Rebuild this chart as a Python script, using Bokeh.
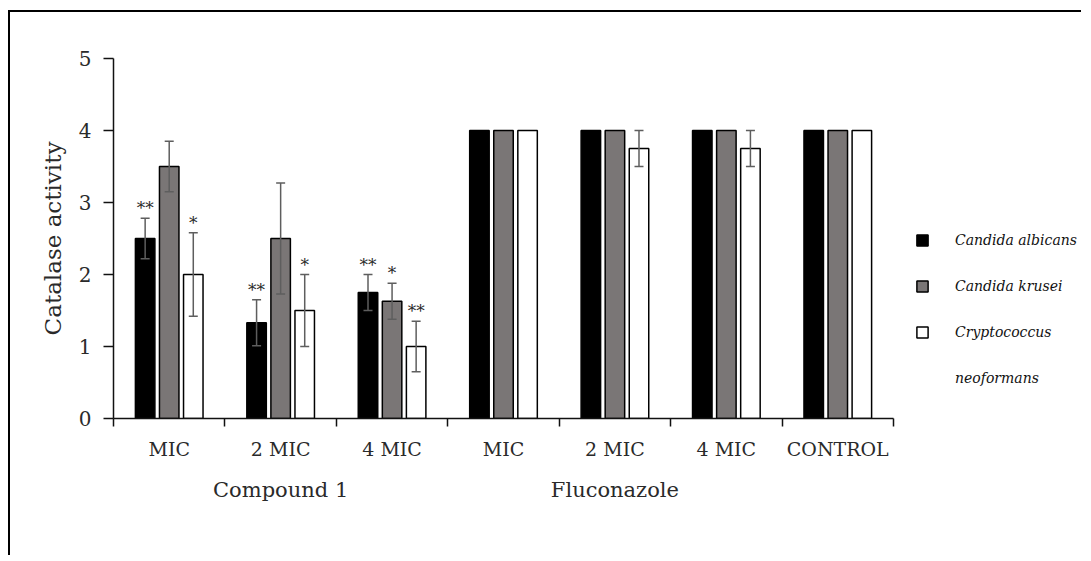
from bokeh.plotting import figure
from bokeh.models import (Range1d, FixedTicker, LinearAxis, ColumnDataSource,
                          Whisker, TeeHead, Legend, LegendItem)
from bokeh.core.properties import value
from bokeh.embed import file_html
from bokeh.resources import INLINE

# ---------------- data ----------------
categories = ["MIC", "2 MIC", "4 MIC", "MIC", "2 MIC", "4 MIC", "CONTROL"]
groups = ["Compound 1", "Fluconazole"]
group_span = [(0, 3), (3, 6)]
species = ["Candida albicans", "Candida krusei", "Cryptococcus", "neoformans"]

albicans = [2.5, 1.33, 1.75, 4.0, 4.0, 4.0, 4.0]
albicans_err = [0.28, 0.32, 0.25, 0.0, 0.0, 0.0, 0.0]
krusei = [3.5, 2.5, 1.63, 4.0, 4.0, 4.0, 4.0]
krusei_err = [0.35, 0.77, 0.25, 0.0, 0.0, 0.0, 0.0]
crypto = [2.0, 1.5, 1.0, 4.0, 3.75, 3.75, 4.0]
crypto_err = [0.58, 0.5, 0.35, 0.0, 0.25, 0.25, 0.0]

albicans_sig = ["**", "**", "**", "", "", "", ""]
krusei_sig = ["", "", "*", "", "", "", ""]
crypto_sig = ["*", "*", "**", "", "", "", ""]

y_ticks = [0, 1, 2, 3, 4, 5]

# ---------------- style ----------------
FONT = "DejaVu Serif"
COLORS = ["#000000", "#7a7676", "#ffffff"]
ERR_COLOR = "#5e5e5e"
TEXT_COLOR = "#2a2a2a"
OFFSETS = [-0.216, 0.0, 0.216]
BAR_W = 0.175

n = len(categories)
W, H = 1073, 545
LEFT, TOP, BOTTOM = 103, 46, 139
PLOT_W = 780  # width of the category area in px
x_end = n * (W - LEFT) / PLOT_W  # leave room on the right for the legend

p = figure(width=W, height=H,
           x_range=Range1d(0, x_end), y_range=Range1d(0, 5),
           x_axis_type=None,
           output_backend="svg", toolbar_location=None,
           min_border_left=LEFT, min_border_right=0,
           min_border_top=TOP, min_border_bottom=BOTTOM,
           styles={"border-left": "2px solid black",
                   "border-top": "2px solid black",
                   "margin-left": "8px",
                   "margin-top": "10px"})
p.outline_line_color = None
p.ygrid.grid_line_color = None
p.background_fill_color = "white"

# y axis
ya = p.yaxis[0]
ya.ticker = FixedTicker(ticks=y_ticks)
ya.major_tick_out = 10
ya.major_tick_in = 0
ya.minor_tick_line_color = None
ya.axis_line_width = 1.5
ya.major_tick_line_width = 1.5
ya.axis_line_color = "#111111"
ya.major_tick_line_color = "#111111"
ya.major_label_text_font = FONT
ya.major_label_text_font_size = "20px"
ya.major_label_text_color = TEXT_COLOR
ya.major_label_standoff = 12
ya.axis_label = "Catalase activity"
ya.axis_label_text_font = FONT
ya.axis_label_text_font_size = "23px"
ya.axis_label_text_font_style = "normal"
ya.axis_label_text_color = TEXT_COLOR
ya.axis_label_standoff = 10

# x axis: category labels at centres, boundary ticks
centers = [i + 0.5 for i in range(n)]
bounds = [float(i) for i in range(n + 1)]
xa = LinearAxis(ticker=FixedTicker(ticks=centers, minor_ticks=bounds),
                major_label_overrides={c: lab for c, lab in zip(centers, categories)},
                bounds=(0, n))
xa.major_tick_out = 0
xa.major_tick_in = 0
xa.major_tick_line_color = None
xa.minor_tick_out = 8
xa.minor_tick_in = 0
xa.minor_tick_line_width = 1.5
xa.minor_tick_line_color = "#111111"
xa.axis_line_width = 1.5
xa.axis_line_color = "#111111"
xa.major_label_text_font = FONT
xa.major_label_text_font_size = "19px"
xa.major_label_text_color = TEXT_COLOR
xa.major_label_standoff = 11
p.add_layout(xa, "below")

gcent = [(a + b) / 2 for a, b in group_span]
ga = LinearAxis(ticker=FixedTicker(ticks=gcent, minor_ticks=[]),
                major_label_overrides={c: g for c, g in zip(gcent, groups)})
ga.axis_line_color = None
ga.major_tick_line_color = None
ga.minor_tick_line_color = None
ga.major_label_text_font = FONT
ga.major_label_text_font_size = "21px"
ga.major_label_text_color = TEXT_COLOR
ga.major_label_standoff = 9
p.add_layout(ga, "below")

# bars
series = [(albicans, albicans_err, albicans_sig),
          (krusei, krusei_err, krusei_sig),
          (crypto, crypto_err, crypto_sig)]
renderers = []
for k, (vals, errs, sig) in enumerate(series):
    xs = [i + 0.5 + OFFSETS[k] for i in range(n)]
    src = ColumnDataSource(dict(x=xs, top=vals))
    r = p.vbar(x="x", top="top", width=BAR_W, bottom=0, source=src,
               fill_color=COLORS[k], line_color="#000000", line_width=1.5)
    renderers.append(r)

for k, (vals, errs, sig) in enumerate(series):
    xs = [i + 0.5 + OFFSETS[k] for i in range(n)]
    wx = [x for x, e in zip(xs, errs) if e > 0]
    wu = [v + e for v, e in zip(vals, errs) if e > 0]
    wl = [v - e for v, e in zip(vals, errs) if e > 0]
    wsrc = ColumnDataSource(dict(x=wx, upper=wu, lower=wl))
    w = Whisker(source=wsrc, base="x", upper="upper", lower="lower",
                line_color=ERR_COLOR, line_width=1.5, level="overlay",
                upper_head=TeeHead(size=9, line_color=ERR_COLOR, line_width=1.5),
                lower_head=TeeHead(size=9, line_color=ERR_COLOR, line_width=1.5))
    p.add_layout(w)
    sx = [x for x, s in zip(xs, sig) if s]
    sy = [v + e for v, e, s in zip(vals, errs, sig) if s]
    st = [s for s in sig if s]
    p.text(x=sx, y=sy, text=st, text_align="center", text_baseline="bottom",
           text_font=value(FONT), text_font_size="17px", text_color=TEXT_COLOR)

dummy = p.scatter(x=[], y=[], fill_alpha=0, line_alpha=0)

legend = Legend(items=[LegendItem(label=species[0], renderers=[renderers[0]]),
                       LegendItem(label=species[1], renderers=[renderers[1]]),
                       LegendItem(label=species[2], renderers=[renderers[2]]),
                       LegendItem(label=species[3], renderers=[dummy])],
                location=(802, 30), orientation="vertical",
                padding=0, margin=0, spacing=26,
                glyph_width=14, glyph_height=14, label_height=20,
                label_standoff=26, label_text_font=FONT,
                label_text_font_size="14px", label_text_font_style="italic",
                label_text_color="#111111",
                background_fill_alpha=0, border_line_color=None)
p.add_layout(legend)

open("out.html", "w").write(file_html(p, INLINE))
